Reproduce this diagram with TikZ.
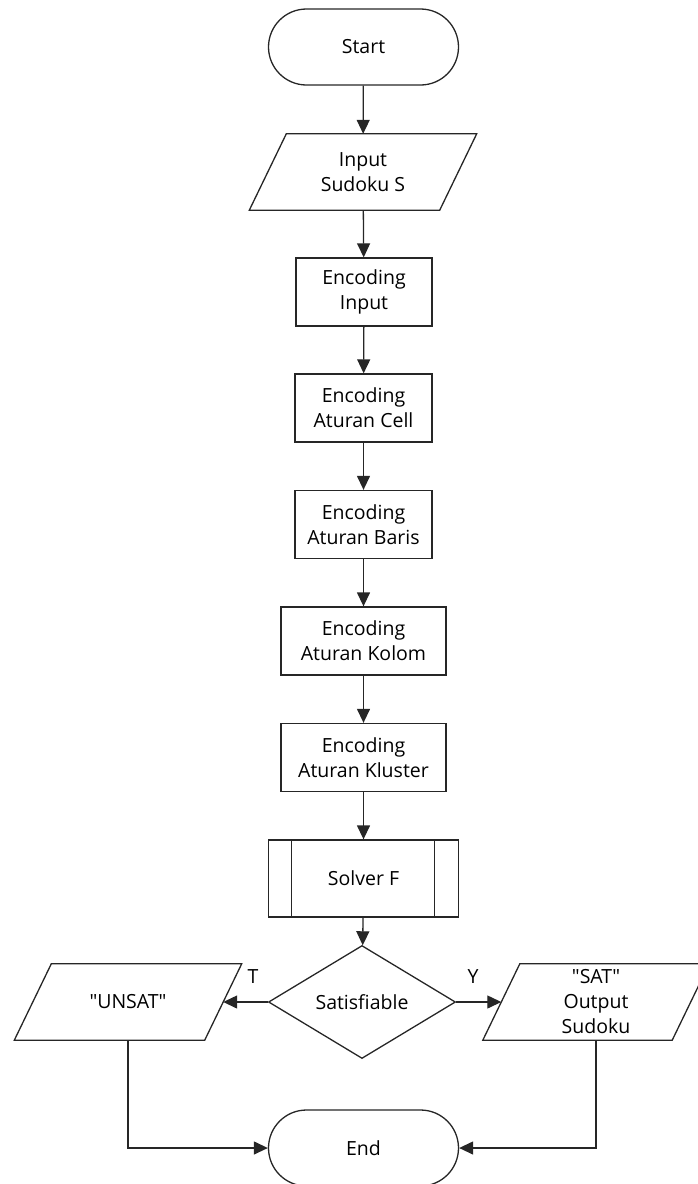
\documentclass[tikz,border=0pt]{standalone}
\usepackage{fontspec}
\setmainfont{Open Sans}
\usetikzlibrary{shapes.geometric,shapes.misc,arrows.meta}
\begin{document}
\begin{tikzpicture}[x=1pt,y=-1pt,
  font=\fontsize{19.5}{25}\selectfont,
  line/.style={draw=black!85, line width=1.3pt},
  arr/.style={line, -{Triangle[length=14pt,width=13pt]}},
  term/.style={rounded rectangle, line, minimum width=190pt, minimum height=76pt, inner sep=0pt},
  proc/.style={rectangle, line, minimum height=68pt, inner sep=0pt, align=center},
  io/.style={rectangle, minimum height=76pt, minimum width=190pt, inner sep=0pt, align=center},
  dec/.style={diamond, line, minimum width=187pt, minimum height=113pt, inner sep=0pt, aspect=1.65},
  lbl/.style={inner sep=0pt}]
\useasboundingbox (0,0) rectangle (698,1184);
\clip (0,0) rectangle (698,1184);
\node[term] (start) at (363.5,47) {Start};
\node[io] (input) at (363,172) {Input\\Sudoku S};
\node[proc, minimum width=136pt] (enc1) at (364,292) {Encoding\\Input};
\node[proc, minimum width=137pt] (enc2) at (363.5,408) {Encoding\\Aturan Cell};
\node[proc, minimum width=137pt] (enc3) at (363.5,524.5) {Encoding\\Aturan Baris};
\node[proc, minimum width=165pt] (enc4) at (363.5,641) {Encoding\\Aturan Kolom};
\node[proc, minimum width=165pt] (enc5) at (363.5,757.5) {Encoding\\Aturan Kluster};
\node[proc, minimum width=190pt, minimum height=77pt] (solver) at (363.5,878.5) {Solver F};
\node[dec] (sat?) at (362,1002) {Satisfiable};
\node[io] (unsat) at (128,1002) {\textquotedbl UNSAT\textquotedbl};
\node[io, minimum width=189pt] (sat) at (596,1002) {\textquotedbl SAT\textquotedbl\\Output\\Sudoku};
\node[term] (end) at (363.5,1148) {End};
\foreach \n in {input,unsat,sat}
  \draw[line] ([xshift=18.5pt]\n.north west) -- ([xshift=18.5pt]\n.north east)
    -- ([xshift=-18.5pt]\n.south east) -- ([xshift=-18.5pt]\n.south west) -- cycle;
\draw[line] ([xshift=23.5pt]solver.north west) -- ([xshift=23.5pt]solver.south west);
\draw[line] ([xshift=-24.5pt]solver.north east) -- ([xshift=-24.5pt]solver.south east);
\draw[arr] (start) -- (input);
\draw[arr] (input) -- (enc1);
\draw[arr] (enc1) -- (enc2);
\draw[arr] (enc2) -- (enc3);
\draw[arr] (enc3) -- (enc4);
\draw[arr] (enc4) -- (enc5);
\draw[arr] (enc5) -- (solver);
\draw[arr] (solver) -- (sat?);
\draw[arr] (sat?.west) -- (unsat.east);
\draw[arr] (sat?.east) -- (sat.west);
\node[lbl] (tl) at (253,977) {T};
\node[lbl] (yl) at (473,977) {Y};
\draw[arr] (unsat.south) |- (end.west);
\draw[arr] (sat.south) |- (end.east);
\end{tikzpicture}
\end{document}
